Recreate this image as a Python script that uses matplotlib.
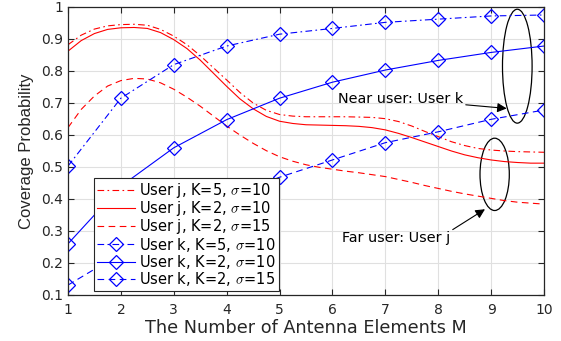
import matplotlib
matplotlib.use('Agg')
import matplotlib.pyplot as plt
from matplotlib.patches import Ellipse

plt.rcParams['font.family'] = ['DejaVu Sans']
plt.rcParams['mathtext.fontset'] = 'cm'

# --- data ---
M_dense = [1, 1.25, 1.5, 1.75, 2, 2.25, 2.5, 2.75, 3, 3.25, 3.5, 3.75, 4, 4.25, 4.5, 4.75,
           5, 5.25, 5.5, 5.75, 6, 6.25, 6.5, 6.75, 7, 7.25, 7.5, 7.75, 8, 8.25, 8.5, 8.75,
           9, 9.25, 9.5, 9.75, 10]
user_j_k5_s10 = [0.882, 0.912, 0.931, 0.941, 0.945, 0.946, 0.943, 0.930, 0.909, 0.882,
                 0.848, 0.810, 0.772, 0.733, 0.700, 0.677, 0.664, 0.659, 0.657, 0.657,
                 0.657, 0.657, 0.656, 0.655, 0.651, 0.642, 0.628, 0.611, 0.595, 0.579,
                 0.567, 0.558, 0.553, 0.550, 0.548, 0.547, 0.546]
user_j_k2_s10 = [0.862, 0.895, 0.917, 0.930, 0.935, 0.936, 0.933, 0.920, 0.898, 0.870,
                 0.834, 0.793, 0.752, 0.713, 0.682, 0.658, 0.643, 0.636, 0.632, 0.631,
                 0.630, 0.629, 0.627, 0.623, 0.616, 0.605, 0.592, 0.578, 0.564, 0.550,
                 0.538, 0.529, 0.522, 0.517, 0.514, 0.512, 0.512]
user_j_k2_s15 = [0.623, 0.680, 0.722, 0.753, 0.770, 0.777, 0.775, 0.763, 0.743, 0.718,
                 0.690, 0.659, 0.628, 0.600, 0.574, 0.551, 0.532, 0.518, 0.507, 0.499,
                 0.493, 0.487, 0.482, 0.476, 0.470, 0.461, 0.452, 0.442, 0.433, 0.424,
                 0.416, 0.409, 0.402, 0.395, 0.390, 0.387, 0.384]

M = [1, 2, 3, 4, 5, 6, 7, 8, 9, 10]
user_k_k5_s10 = [0.503, 0.715, 0.820, 0.878, 0.915, 0.933, 0.952, 0.962, 0.972, 0.975]
user_k_k2_s10 = [0.260, 0.440, 0.560, 0.648, 0.715, 0.765, 0.803, 0.833, 0.858, 0.878]
user_k_k2_s15 = [0.131, 0.230, 0.325, 0.405, 0.468, 0.522, 0.576, 0.610, 0.649, 0.678]

labels = [r'User j, K=5, $\sigma$=10', r'User j, K=2, $\sigma$=10', r'User j, K=2, $\sigma$=15',
          r'User k, K=5, $\sigma$=10', r'User k, K=2, $\sigma$=10', r'User k, K=2, $\sigma$=15']

fig = plt.figure(figsize=(5.61, 3.41), dpi=100)
ax = fig.add_axes([0.1212, 0.1349, 0.8485, 0.8446])

lw = 0.8
dashdot = (0, (6, 3, 1.5, 3))
dashed = (0, (6, 4))
ax.plot(M_dense, user_j_k5_s10, color='red', lw=lw, linestyle=dashdot, label=labels[0])
ax.plot(M_dense, user_j_k2_s10, color='red', lw=lw, linestyle='-', label=labels[1])
ax.plot(M_dense, user_j_k2_s15, color='red', lw=lw, linestyle=dashed, label=labels[2])

mk = dict(marker='D', markersize=7.5, markerfacecolor='none', markeredgecolor='blue',
          markeredgewidth=0.9)
ax.plot(M, user_k_k5_s10, color='blue', lw=lw, linestyle=dashdot, label=labels[3], **mk)
ax.plot(M, user_k_k2_s10, color='blue', lw=lw, linestyle='-', label=labels[4], **mk)
ax.plot(M, user_k_k2_s15, color='blue', lw=lw, linestyle=dashed, label=labels[5], **mk)

ax.set_xlim(1, 10)
ax.set_ylim(0.1, 1)
ax.set_xticks(M)
yt = [0.1, 0.2, 0.3, 0.4, 0.5, 0.6, 0.7, 0.8, 0.9, 1.0]
ax.set_yticks(yt)
ax.set_yticklabels(['0.1', '0.2', '0.3', '0.4', '0.5', '0.6', '0.7', '0.8', '0.9', '1'])
ax.grid(True, color='#e0e0e0', linewidth=0.8)
ax.set_axisbelow(True)
ax.tick_params(direction='in', top=True, right=True, labelsize=10,
               colors='#262626', length=4, width=0.8)
ax.tick_params(axis='x', pad=6)
for s in ax.spines.values():
    s.set_color('#262626')
    s.set_linewidth(0.9)

ax.set_xlabel('The Number of Antenna Elements M', fontsize=12.7, color='#262626', labelpad=1)
ax.set_ylabel('Coverage Probability', fontsize=12, color='#262626', labelpad=5,
              family='Liberation Sans')

leg = ax.legend(loc='lower left', bbox_to_anchor=(0.055, 0.014), fontsize=10.5,
                handlelength=2.6, labelspacing=-0.05, borderpad=0.2,
                handletextpad=0.3, borderaxespad=0, fancybox=False, framealpha=1)
leg.get_frame().set_edgecolor('#262626')
leg.get_frame().set_linewidth(0.8)

# annotations: ellipses and arrows
ax.add_patch(Ellipse((9.495, 0.815), 0.56, 0.356, fill=False, edgecolor='black', lw=0.9))
ax.add_patch(Ellipse((9.067, 0.477), 0.554, 0.226, fill=False, edgecolor='black', lw=0.9))

ax.annotate('Near user: User k', xy=(9.295, 0.683), xytext=(6.1, 0.7125),
            fontsize=10.4, va='center', ha='left',
            arrowprops=dict(arrowstyle='-|>', color='black', lw=0.8, mutation_scale=14,
                            shrinkA=0, shrinkB=0))
ax.annotate('Far user: User j', xy=(8.884, 0.368), xytext=(6.175, 0.277),
            fontsize=10.4, va='center', ha='left',
            arrowprops=dict(arrowstyle='-|>', color='black', lw=0.8, mutation_scale=14,
                            shrinkA=0, shrinkB=0, relpos=(1.0, 1.0)))

fig.savefig('out.png', dpi=100)
